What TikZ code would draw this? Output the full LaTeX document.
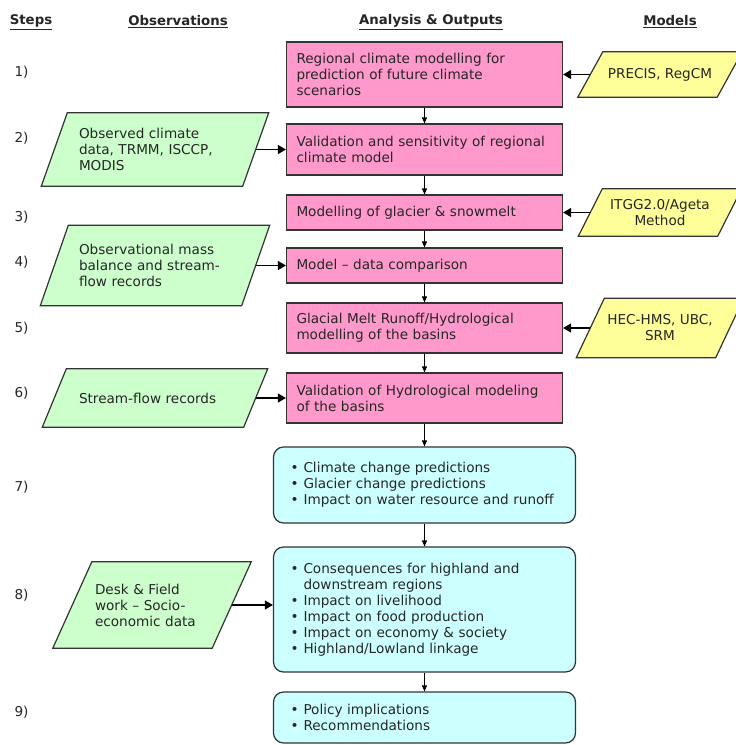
\documentclass[tikz,border=0pt]{standalone}
\usepackage{fontspec}
\setmainfont{DejaVu Sans}
\usetikzlibrary{arrows.meta,backgrounds}

\definecolor{pinkbox}{RGB}{255,153,204}
\definecolor{greenbox}{RGB}{204,255,204}
\definecolor{yellowbox}{RGB}{255,255,153}
\definecolor{cyanbox}{RGB}{204,255,255}
\definecolor{edgegray}{RGB}{51,51,51}

\newcommand{\bul}{\makebox[13pt][l]{\textbullet}}

\tikzset{
  head/.style={font=\fontsize{13.3}{15}\selectfont\bfseries},
  anabox/.style={draw=edgegray, line width=1.2pt, fill=pinkbox, minimum width=276pt,
    text width=256pt, inner xsep=10pt, align=left},
  outbox/.style={draw=edgegray, line width=1.2pt, fill=cyanbox, rounded corners=10pt,
    minimum width=302pt, text width=268pt, inner xsep=17pt, align=left},
  obsbox/.style={align=left},
  modbox/.style={align=center, minimum width=139pt},
  obsfill/.style={draw=edgegray, line width=1.2pt, fill=greenbox},
  modfill/.style={draw=edgegray, line width=1.2pt, fill=yellowbox},
  flow/.style={-{Triangle[length=6pt,width=5pt]}, line width=0.9pt},
  feed/.style={-{Triangle[length=8pt,width=9pt]}, line width=1.3pt}
}

\begin{document}
\begin{tikzpicture}[x=1pt, y=-1pt, every node/.style={font=\fontsize{13.6}{16}\selectfont, text=black!85}]
    \useasboundingbox (0,0) rectangle (736,745);

    \node[head] (hsteps) at (31,22) {\underline{Steps}};
    \node[head] (hobs) at (178,22) {\underline{Observations}};
    \node[head] (hana) at (431,22) {\underline{Analysis \& Outputs}};
    \node[head] (hmod) at (670,22) {\underline{Models}};

    \foreach \n/\y in {1/72,2/138,3/217,4/262,5/328,6/393,7/487,8/595,9/712}
        \node[anchor=west] (st\n) at (11,\y) {\n)};

    \node[anabox, minimum height=65pt] (p1) at (424.5,74.5) {Regional climate modelling for\\prediction of future climate\\scenarios};
    \node[anabox, minimum height=51pt] (p2) at (424.5,149.5) {Validation and sensitivity of regional\\climate model};
    \node[anabox, minimum height=35pt] (p3) at (424.5,212.5) {Modelling of glacier \& snowmelt};
    \node[anabox, minimum height=35pt] (p4) at (424.5,265.5) {Model – data comparison};
    \node[anabox, minimum height=50pt] (p5) at (424.5,328) {Glacial Melt Runoff/Hydrological\\modelling of the basins};
    \node[anabox, minimum height=50pt] (p6) at (424.5,398) {Validation of Hydrological modeling\\of the basins};

    \node[outbox, minimum height=76pt] (c7) at (424.5,485) {\bul Climate change predictions\\\bul Glacier change predictions\\\bul Impact on water resource and runoff};
    \node[outbox, minimum height=125pt] (c8) at (424.5,609.5) {\bul Consequences for highland and\\\hspace*{13pt}downstream regions\\\bul Impact on livelihood\\\bul Impact on food production\\\bul Impact on economy \& society\\\bul Highland/Lowland linkage};
    \node[outbox, minimum height=51pt] (c9) at (424.5,717.5) {\bul Policy implications\\\bul Recommendations};

    \node[obsbox, text width=152pt, inner xsep=24.5pt, minimum height=73pt] (g2) at (155,149.5) {Observed climate\\data, TRMM, ISCCP,\\MODIS};
    \node[obsbox, text width=152pt, inner xsep=24.5pt, minimum height=80pt] (g4) at (155,265.5) {Observational mass\\balance and stream-\\flow records};
    \node[obsbox, text width=152pt, inner xsep=24.5pt, minimum height=58pt] (g6) at (155,398) {Stream-flow records};
    \node[obsbox, text width=114pt, inner xsep=22.5pt, minimum height=86pt] (g8) at (152,605) {Desk \& Field\\work – Socio-\\economic data};

    \node[modbox, minimum height=45pt] (m1) at (660,74.5) {PRECIS, RegCM};
    \node[modbox, minimum height=47pt] (m3) at (660,212.5) {ITGG2.0/Ageta\\Method};
    \node[modbox, minimum height=59pt] (m5) at (660,328) {HEC-HMS, UBC,\\SRM};

    \begin{scope}[on background layer]
        \fill[white] (0,0) rectangle (736,745);
        \foreach \b/\s in {g2/26,g4/28,g6/24,g8/39}
            \filldraw[obsfill] ([xshift=\s/2]\b.north west) -- ([xshift=\s/2]\b.north east)
                -- ([xshift=-\s/2]\b.south east) -- ([xshift=-\s/2]\b.south west) -- cycle;
        \foreach \b/\s in {m1/25,m3/24,m5/28}
            \filldraw[modfill] ([xshift=\s/2]\b.north west) -- ([xshift=\s/2]\b.north east)
                -- ([xshift=-\s/2]\b.south east) -- ([xshift=-\s/2]\b.south west) -- cycle;
    \end{scope}

    \foreach \a/\b in {p1/p2,p2/p3,p3/p4,p4/p5,p5/p6,p6/c7,c7/c8,c8/c9}
        \draw[flow] (\a) -- (\b);

    \foreach \a/\b in {m1/p1,g2/p2,m3/p3,g4/p4,m5/p5,g6/p6}
        \draw[feed] (\a) -- (\b);
    \draw[feed] (g8) -- (g8 -| c8.west);
\end{tikzpicture}
\end{document}
